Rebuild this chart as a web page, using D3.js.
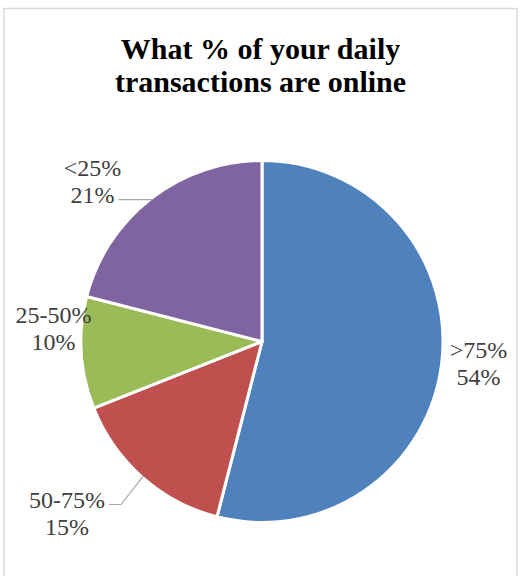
<!DOCTYPE html>
<html>
<head>
<meta charset="utf-8">
<script src="https://cdn.jsdelivr.net/npm/d3@7"></script>
<style>
  html, body { margin: 0; padding: 0; background: #ffffff; }
  svg { display: block; }
</style>
</head>
<body>
<script>
// Share of daily transactions done online
const categories = [">75%", "50-75%", "25-50%", "<25%"];
const values = [54, 15, 10, 21];
const colors = ["#4F81BD", "#C0504D", "#9BBB59", "#8064A2"];
const titleLines = ["What % of your daily", "transactions are online"];

const width = 521, height = 576;
const cx = 262, cy = 341.5, radius = 181;

// first-line baseline of each two-line label, relative to the pie centre
const labelOffset = [[216.5, 16], [-195, 166], [-208.5, -19], [-169.5, -166]];
const lineGap = 27;

const svg = d3.select("body").append("svg")
  .attr("width", width).attr("height", height);

// chart frame
svg.append("rect")
  .attr("x", 4).attr("y", 8.5)
  .attr("width", 513).attr("height", 580)
  .attr("fill", "#ffffff")
  .attr("stroke", "#d9d9d9").attr("stroke-width", 1.5);

// title
const title = svg.append("text")
  .attr("text-anchor", "middle")
  .attr("font-family", "'Liberation Serif', 'DejaVu Serif', serif")
  .attr("font-weight", "bold")
  .attr("font-size", 30)
  .attr("fill", "#000000");
titleLines.forEach((t, i) => {
  title.append("tspan").attr("x", 260.5).attr("y", 59 + i * 32.5).text(t);
});

const total = d3.sum(values);
const pie = d3.pie().sort(null).value(d => d)(values);
const arc = d3.arc().innerRadius(0).outerRadius(radius);

const g = svg.append("g").attr("transform", `translate(${cx},${cy})`);

g.selectAll("path.slice")
  .data(pie)
  .join("path")
  .attr("class", "slice")
  .attr("d", arc)
  .attr("fill", (d, i) => colors[i])
  .attr("stroke", "#ffffff")
  .attr("stroke-width", 3)
  .attr("stroke-linejoin", "round");

const fmt = v => Math.round(v / total * 100) + "%";
const labelFont = "'Liberation Serif', 'DejaVu Serif', serif";

const labels = g.selectAll("text.lbl")
  .data(pie)
  .join("text")
  .attr("class", "lbl")
  .attr("text-anchor", "middle")
  .attr("font-family", labelFont)
  .attr("font-size", 24)
  .attr("fill", "#404040");

labels.each(function (d, i) {
  const t = d3.select(this);
  const [x, y] = labelOffset[i];
  t.append("tspan").attr("x", x).attr("y", y).text(categories[i]);
  t.append("tspan").attr("x", x).attr("y", y + lineGap).text(fmt(d.value));
});

// leader lines for labels sitting away from their slice
const rEdge = radius - 1.5;
const mid = d => (d.startAngle + d.endAngle) / 2;
const edgePoint = d => [Math.sin(mid(d)) * rEdge, -Math.cos(mid(d)) * rEdge];

const leaders = [];
// <25% : horizontal line from the second label line to the rim
{
  const i = 3, d = pie[i];
  const p = edgePoint(d);
  const node = labels.nodes()[i].childNodes[1];
  const bb = node.getBBox();
  leaders.push([[bb.x + bb.width + 4, p[1]], p]);
}
// 50-75% : short horizontal then diagonal to the rim
{
  const i = 1, d = pie[i];
  const p = edgePoint(d);
  const node = labels.nodes()[i].childNodes[0];
  const bb = node.getBBox();
  const yLine = labelOffset[i][1] - 3;
  const x0 = bb.x + bb.width + 4;
  leaders.push([[x0, yLine], [x0 + 12, yLine], p]);
}

g.selectAll("path.leader")
  .data(leaders)
  .join("path")
  .attr("class", "leader")
  .attr("d", d3.line())
  .attr("fill", "none")
  .attr("stroke", "#a6a6a6")
  .attr("stroke-width", 1.2);
</script>
</body>
</html>
